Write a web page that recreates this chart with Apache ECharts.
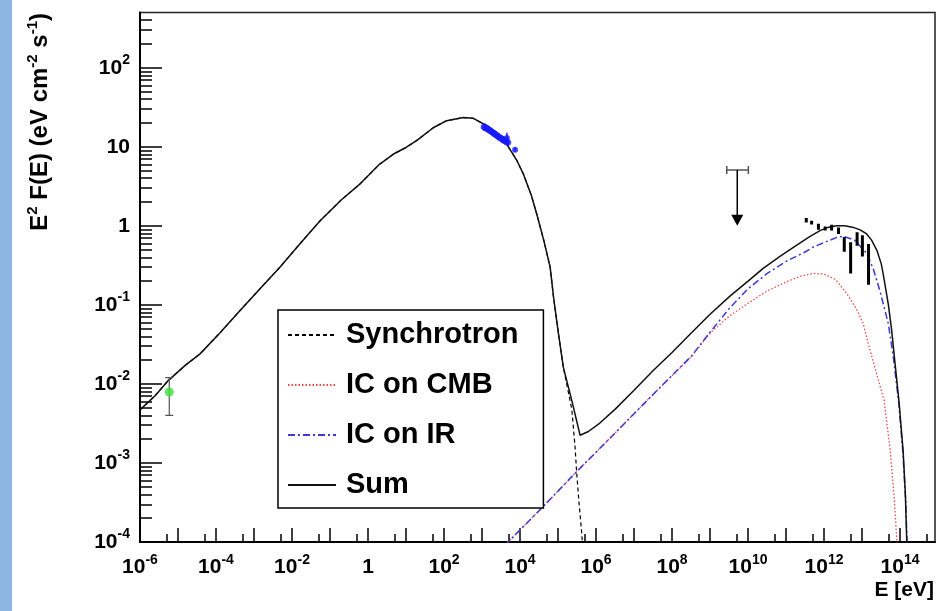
<!DOCTYPE html>
<html><head><meta charset="utf-8">
<script src="https://cdn.jsdelivr.net/npm/echarts@6/dist/echarts.min.js"></script>
<style>html,body{margin:0;padding:0;background:#fff}#c{width:938px;height:611px}</style>
</head><body><div id="c"></div>
<script>
// ---------------- data (E in eV, F = E^2 F(E) in eV cm^-2 s^-1) ----------------
const sumE = [1e-6, 2.5e-6, 5.6e-6, 1.6e-5, 3.8e-5, 1.26e-4, 4.3e-4, 1.4e-3, 4.8e-3, 1.6e-2, 5.5e-2, 0.2, 0.62, 2.0, 4.7, 10, 19, 52, 117, 320, 590, 1300, 2500, 4500, 8000, 12300, 20000, 27500, 42000, 62000, 76000, 1.02e5, 1.38e5, 2.3e5, 3.8e5, 6.3e5, 1.26e6, 3.2e6, 1e7, 3.2e7, 1e8, 3.2e8, 1e9, 3.4e9, 1e10, 2.5e10, 6.9e10, 2e11, 4e11, 7.8e11, 1.26e12, 2.1e12, 3.5e12, 5.9e12, 8.9e12, 1.32e13, 1.78e13, 2.45e13, 3.2e13, 3.6e13, 4.9e13, 6e13, 7.4e13, 9.3e13, 1.2e14, 1.38e14, 1.5e14, 1.6e14];
const sumF = [4.7e-3, 7.1e-3, 1.11e-2, 1.74e-2, 2.4e-2, 4.4e-2, 8.5e-2, 0.158, 0.30, 0.59, 1.16, 2.14, 3.4, 6.0, 8.1, 9.8, 12.0, 17.4, 21.4, 23.4, 22.9, 18.6, 14.8, 10.7, 6.9, 4.5, 2.4, 1.41, 0.66, 0.30, 0.126, 0.044, 0.0162, 6.2e-3, 2.24e-3, 2.5e-3, 3.2e-3, 4.8e-3, 8.3e-3, 1.48e-2, 2.5e-2, 4.4e-2, 7.6e-2, 0.13, 0.20, 0.29, 0.41, 0.58, 0.72, 0.87, 0.955, 1.0, 1.0, 0.955, 0.89, 0.79, 0.66, 0.49, 0.33, 0.245, 0.102, 0.048, 0.0178, 6.2e-3, 1.45e-3, 4e-4, 1e-4, 4e-5];

const syncE = [1e-6, 2.5e-6, 5.6e-6, 1.6e-5, 3.8e-5, 1.26e-4, 4.3e-4, 1.4e-3, 4.8e-3, 1.6e-2, 5.5e-2, 0.2, 0.62, 2.0, 4.7, 10, 19, 52, 117, 320, 590, 1300, 2500, 4500, 8000, 12300, 20000, 27500, 42000, 62000, 76000, 1.02e5, 1.38e5, 2.3e5, 2.8e5, 3.1e5, 3.55e5, 4.2e5, 4.8e5];
const syncF = [4.7e-3, 7.1e-3, 1.11e-2, 1.74e-2, 2.4e-2, 4.4e-2, 8.5e-2, 0.158, 0.30, 0.59, 1.16, 2.14, 3.4, 6.0, 8.1, 9.8, 12.0, 17.4, 21.4, 23.4, 22.9, 18.6, 14.8, 10.7, 6.9, 4.5, 2.4, 1.41, 0.66, 0.30, 0.126, 0.044, 0.0162, 4.8e-3, 1.6e-3, 7.4e-4, 3.2e-4, 1.3e-4, 5e-5];

const cmbE = [4000, 3.2e4, 3.2e5, 3.2e6, 3.2e7, 3.2e8, 1e9, 3.2e9, 1e10, 3.2e10, 1e11, 2.5e11, 5.2e11, 1e12, 2e12, 4e12, 7.1e12, 1.07e13, 1.58e13, 2.5e13, 3.8e13, 5.5e13, 6.9e13, 8.3e13, 8.9e13];
const cmbF = [9.1e-5, 2.5e-4, 7.9e-4, 2.4e-3, 7.4e-3, 2.2e-2, 0.044, 0.072, 0.105, 0.15, 0.195, 0.232, 0.25, 0.245, 0.21, 0.138, 0.089, 0.058, 0.028, 0.0126, 6.2e-3, 1.45e-3, 4e-4, 1e-4, 5e-5];

const irE = [4000, 3.2e4, 3.2e5, 3.2e6, 3.2e7, 3.2e8, 1e9, 3.2e9, 1e10, 3.2e10, 1e11, 3e11, 5.2e11, 2.1e12, 3.2e12, 6.3e12, 1.32e13, 2e13, 2.95e13, 4.9e13, 6.6e13, 9.3e13, 1.2e14, 1.41e14, 1.55e14];
const irF = [9.1e-5, 2.5e-4, 7.9e-4, 2.4e-3, 7.4e-3, 2.24e-2, 0.045, 0.09, 0.16, 0.25, 0.355, 0.46, 0.54, 0.71, 0.74, 0.66, 0.45, 0.28, 0.15, 0.058, 0.0224, 5.6e-3, 1.26e-3, 3.2e-4, 8e-5];

// radio point (green)
const radioE = [5.9e-6];
const radioF = [7.9e-3];
const radioLo = [4.0e-3];
const radioHi = [1.2e-2];

// X-ray points (blue)
const xrayE  = [1100, 1200, 1300, 1420, 1550, 1700, 1850, 2000, 2200, 2400, 2600, 2850, 3100, 3400, 3700, 4000, 4400, 4500, 4900, 7400];
const xrayF  = [17.8, 17.6, 17.2, 16.8, 16.3, 15.8, 15.3, 14.9, 14.5, 14.0, 13.6, 13.2, 12.8, 12.5, 12.2, 11.9, 11.6, 12.9, 11.3, 9.2];
const xrayLo = [15.9, 15.7, 15.3, 15.0, 14.5, 14.1, 13.6, 13.3, 12.9, 12.5, 12.1, 11.8, 11.4, 11.1, 10.9, 10.6, 10.3, 11.0, 10.1, 8.7];
const xrayHi = [19.9, 19.7, 19.3, 18.8, 18.3, 17.7, 17.1, 16.7, 16.2, 15.7, 15.2, 14.8, 14.3, 14.0, 13.7, 13.3, 13.0, 15.1, 12.7, 9.8];

// GeV upper limit
const ulE = [5.2e9];
const ulF = [5.1];
const ulElo = [2.75e9];
const ulEhi = [1.02e10];
const ulTo = [1.0];

// TeV points (black error bars)
const tevE  = [3.4e11, 4.7e11, 7.1e11, 1.07e12, 1.58e12, 2.4e12, 3.4e12, 5.0e12, 7.4e12, 1.02e13, 1.48e13];
const tevLo = [1.10, 1.04, 0.89, 0.87, 0.87, 0.79, 0.47, 0.25, 0.56, 0.41, 0.18];
const tevHi = [1.26, 1.16, 1.06, 0.98, 1.03, 0.95, 0.72, 0.62, 0.83, 0.76, 0.59];

// axis tick labels (exponents)
const xLabelExp = [-6, -4, -2, 0, 2, 4, 6, 8, 10, 12, 14];
const yLabelExp = [-4, -3, -2, -1, 0, 1, 2];
const seriesNames = ['Synchrotron', 'IC on CMB', 'IC on IR', 'Sum'];

// ---------------- chart ----------------
const FONT = "'Liberation Sans', Arial, Helvetica, sans-serif";
const X_MIN = 1e-6, X_MAX = 8.3e14, Y_MIN = 1e-4, Y_MAX = 500;

const xMajor = [], xMinor = [], yMajor = [], yMinor = [];
for (let e = -6; e <= 14; e++) { xMajor.push(Math.pow(10, e)); xMinor.push(5 * Math.pow(10, e)); }
for (let e = -4; e <= 2; e++) {
  yMajor.push(Math.pow(10, e));
  for (let k = 2; k <= 9; k++) { const v = k * Math.pow(10, e); if (v < Y_MAX) yMinor.push(v); }
}

const rich = {
  b: {fontSize: 21, fontWeight: 'bold', fontFamily: FONT, color: '#000', lineHeight: 21, verticalAlign: 'bottom'},
  s: {fontSize: 14, fontWeight: 'bold', fontFamily: FONT, color: '#000', lineHeight: 14, verticalAlign: 'bottom', padding: [0, 0, 11, 0]}
};
function powLabel(v) {
  const e = Math.round(Math.log10(v));
  if (e === 0) return '{b|1}';
  if (e === 1) return '{b|10}';
  return '{b|10}{s|' + e + '}';
}
const pairs = (a, b) => a.map((v, i) => [v, b[i]]);

function vBars(name, E, lo, hi, color, lw, capHalf, z) {
  return {
    type: 'custom', name: name, z: z, silent: true, clip: true,
    xAxisIndex: 0, yAxisIndex: 0,
    data: E.map((e, i) => [e, lo[i], hi[i]]),
    encode: {x: 0, y: [1, 2]},
    renderItem: function (params, api) {
      const a = api.coord([api.value(0), api.value(1)]);
      const b = api.coord([api.value(0), api.value(2)]);
      const ch = [{type: 'line', shape: {x1: a[0], y1: a[1], x2: b[0], y2: b[1]}, style: {stroke: color, lineWidth: lw}}];
      if (capHalf) {
        ch.push({type: 'line', shape: {x1: a[0] - capHalf, y1: a[1], x2: a[0] + capHalf, y2: a[1]}, style: {stroke: color, lineWidth: 1.2}});
        ch.push({type: 'line', shape: {x1: b[0] - capHalf, y1: b[1], x2: b[0] + capHalf, y2: b[1]}, style: {stroke: color, lineWidth: 1.2}});
      }
      return {type: 'group', children: ch};
    }
  };
}

const baseX = {type: 'log', logBase: 10, min: X_MIN, max: X_MAX, position: 'bottom', splitLine: {show: false}, minorTick: {show: false}};
const baseY = {type: 'log', logBase: 10, min: Y_MIN, max: Y_MAX, position: 'left', splitLine: {show: false}, minorTick: {show: false}};
const NOSYM = 'rgba(0,0,0,0)';

const option = {
  animation: false,
  backgroundColor: '#fff',
  textStyle: {fontFamily: FONT},
  grid: {left: 140, right: 3, top: 12.5, bottom: 69, show: true, borderColor: '#222', borderWidth: 1.5, backgroundColor: 'transparent', containLabel: false, outerBoundsMode: 'none'},
  xAxis: [
    Object.assign({}, baseX, {
      axisLine: {show: true, lineStyle: {color: '#000', width: 2}},
      axisTick: {show: true, inside: true, length: 14, customValues: xMajor, lineStyle: {color: '#000', width: 1.5}},
      axisLabel: {show: true, customValues: xLabelExp.map(e => Math.pow(10, e)), formatter: powLabel, rich: rich, margin: 15}
    }),
    Object.assign({}, baseX, {
      axisLine: {show: false},
      axisTick: {show: true, inside: true, length: 8, customValues: xMinor, lineStyle: {color: '#000', width: 1.5}},
      axisLabel: {show: false}
    })
  ],
  yAxis: [
    Object.assign({}, baseY, {
      axisLine: {show: true, lineStyle: {color: '#000', width: 2}},
      axisTick: {show: true, inside: true, length: 22, customValues: yMajor, lineStyle: {color: '#000', width: 1.5}},
      axisLabel: {show: true, customValues: yLabelExp.map(e => Math.pow(10, e)), formatter: powLabel, rich: rich, margin: 10}
    }),
    Object.assign({}, baseY, {
      axisLine: {show: false},
      axisTick: {show: true, inside: true, length: 12, customValues: yMinor, lineStyle: {color: '#000', width: 1.5}},
      axisLabel: {show: false}
    })
  ],
  legend: {
    orient: 'vertical', left: 278, top: 310,
    data: seriesNames,
    itemWidth: 48, itemHeight: 14, itemGap: 20,
    padding: [10, 25, 8, 9],
    borderColor: '#000', borderWidth: 1.5, backgroundColor: '#fff',
    selectedMode: false,
    itemStyle: {color: NOSYM, borderWidth: 0, opacity: 0},
    textStyle: {fontSize: 29, fontWeight: 'bold', fontFamily: FONT, color: '#000', lineHeight: 30, padding: [0, 0, 0, 5]}
  },
  graphic: [
    {type: 'rect', left: 0, top: 0, z: -10, shape: {width: 12, height: 611}, style: {fill: '#8cb5e2'}},
    {type: 'text', x: 40, y: 13, rotation: Math.PI / 2,
      style: {
        text: '{b|E}{s|2}{b| F(E) (eV cm}{s|-2}{b| s}{s|-1}{b|)}',
        rich: {
          b: {fontSize: 24, fontWeight: 'bold', fontFamily: FONT, fill: '#000', color: '#000', lineHeight: 24, verticalAlign: 'bottom'},
          s: {fontSize: 15, fontWeight: 'bold', fontFamily: FONT, fill: '#000', color: '#000', lineHeight: 15, verticalAlign: 'bottom', padding: [0, 0, 12, 0]}
        },
        align: 'right', textAlign: 'right', verticalAlign: 'middle', textVerticalAlign: 'middle'
      }},
    {type: 'text', x: 934, y: 590,
      style: {text: 'E [eV]', font: 'bold 21px ' + FONT, fill: '#000', align: 'right', textAlign: 'right', verticalAlign: 'middle', textVerticalAlign: 'middle'}}
  ],
  series: [
    {name: 'Synchrotron', type: 'line', data: pairs(syncE, syncF), symbol: 'none', clip: true, z: 2,
      lineStyle: {color: '#000', width: 1.2, type: [4, 3]}, itemStyle: {color: NOSYM}},
    {name: 'IC on CMB', type: 'line', data: pairs(cmbE, cmbF), symbol: 'none', clip: true, z: 3,
      lineStyle: {color: '#f04848', width: 1.3, type: [1.5, 2]}, itemStyle: {color: NOSYM}},
    {name: 'IC on IR', type: 'line', data: pairs(irE, irF), symbol: 'none', clip: true, z: 3,
      lineStyle: {color: '#3a3ad8', width: 1.5, type: [7, 3, 2, 3]}, itemStyle: {color: NOSYM}},
    {name: 'Sum', type: 'line', data: pairs(sumE, sumF), symbol: 'none', clip: true, z: 4,
      lineStyle: {color: '#111', width: 1.5}, itemStyle: {color: NOSYM}},
    vBars('radioErr', radioE, radioLo, radioHi, '#555', 1.2, 4, 5),
    {name: 'radio', type: 'scatter', data: pairs(radioE, radioF), symbol: 'circle', symbolSize: 9, z: 6, silent: true,
      itemStyle: {color: '#3ee03a'}},
    vBars('xrayErr', xrayE, xrayLo, xrayHi, '#1a1aff', 1.5, 0, 5),
    {name: 'xray', type: 'scatter', data: pairs(xrayE, xrayF), symbol: 'circle', symbolSize: 6, z: 6, silent: true,
      itemStyle: {color: '#1a1aff'}},
    vBars('tev', tevE, tevLo, tevHi, '#000', 3, 0, 6),
    {type: 'custom', name: 'ul', z: 6, silent: true, clip: true,
      data: ulE.map((e, i) => [e, ulF[i], ulElo[i], ulEhi[i], ulTo[i]]),
      encode: {x: [0, 2, 3], y: [1, 4]},
      renderItem: function (params, api) {
        const c = api.coord([api.value(0), api.value(1)]);
        const l = api.coord([api.value(2), api.value(1)]);
        const r = api.coord([api.value(3), api.value(1)]);
        const t = api.coord([api.value(0), api.value(4)]);
        return {type: 'group', children: [
          {type: 'line', shape: {x1: l[0], y1: l[1], x2: r[0], y2: r[1]}, style: {stroke: '#555', lineWidth: 1.5}},
          {type: 'line', shape: {x1: l[0], y1: l[1] - 4, x2: l[0], y2: l[1] + 4}, style: {stroke: '#555', lineWidth: 1.5}},
          {type: 'line', shape: {x1: r[0], y1: r[1] - 4, x2: r[0], y2: r[1] + 4}, style: {stroke: '#555', lineWidth: 1.5}},
          {type: 'line', shape: {x1: c[0], y1: c[1], x2: t[0], y2: t[1] - 9}, style: {stroke: '#000', lineWidth: 1.5}},
          {type: 'polygon', shape: {points: [[t[0] - 6, t[1] - 11], [t[0] + 6, t[1] - 11], [t[0], t[1]]]}, style: {fill: '#000'}}
        ]};
      }}
  ]
};

const chart = echarts.init(document.getElementById('c'), null, {renderer: 'canvas'});
chart.setOption(option);
</script>
</body></html>
